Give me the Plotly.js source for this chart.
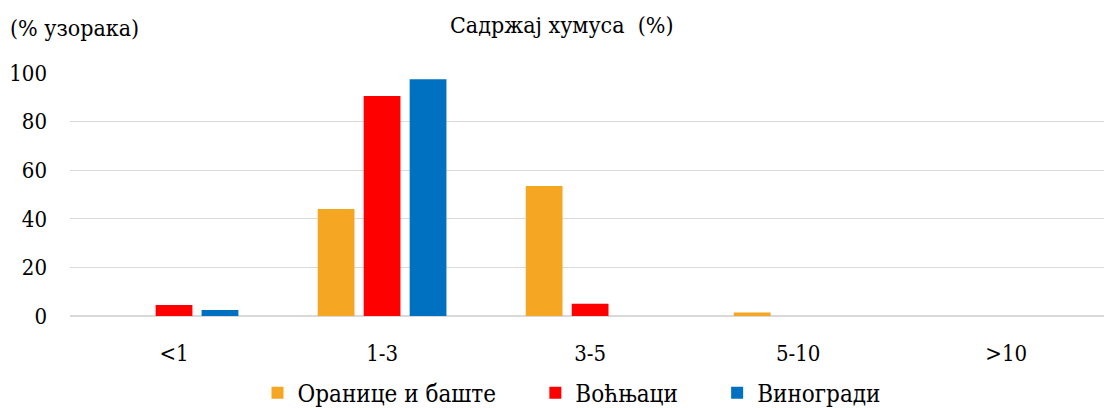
<!DOCTYPE html>
<html><head><meta charset="utf-8">
<script src="https://cdn.plot.ly/plotly-3.0.1.min.js"></script>
<style>body{margin:0;background:#fff}#chart{width:1104px;height:408px}</style>
</head><body><div id="chart"></div>
<script>
const categories = ["<1", "1-3", "3-5", "5-10", ">10"];
const oranice = [0, 44, 53.5, 1.4, 0];
const vocnjaci = [4.5, 90.5, 5, 0, 0];
const vinogradi = [2.5, 97.4, 0, 0, 0];
const seriesNames = ["Оранице и баште", "Воћњаци", "Виногради"];
const colors = ["#F5A623", "#FF0000", "#0070C0"];
const yTicks = [0, 20, 40, 60, 80, 100];

const fam = "DejaVu Serif Condensed, DejaVu Serif";
const font = {family: fam, size: 22, color: "#000"};
const titleFont = {family: fam, size: 23, color: "#000"};
const legendFont = {family: fam, size: 24, color: "#000"};
const pad = "\u00a0\u00a0\u00a0\u00a0\u00a0";
const data = [oranice, vocnjaci, vinogradi].map((v, i) => ({
  type: "bar", x: categories, y: v,
  name: seriesNames[i] + (i < 2 ? pad : ""),
  marker: {color: colors[i]}
}));
const layout = {
  width: 1104, height: 408,
  margin: {l: 70, r: 0, t: 73, b: 92, autoexpand: false},
  paper_bgcolor: "#fff", plot_bgcolor: "#fff",
  font: font,
  barmode: "group", bargap: 0.337, bargroupgap: 0.2,
  showlegend: true,
  legend: {orientation: "h", x: 0.485, xanchor: "center", y: -0.317, yanchor: "middle",
           font: legendFont, itemwidth: 30},
  xaxis: {type: "category", range: [-0.5, 4.47], showgrid: false, zeroline: false, showline: false,
          ticks: "", ticklabelstandoff: 22, tickfont: font},
  yaxis: {range: [0, 100], tickvals: yTicks, ticktext: yTicks.map(String),
          showgrid: true, gridcolor: "#D9D9D9", gridwidth: 1, zeroline: true,
          zerolinecolor: "#D9D9D9", zerolinewidth: 1.5,
          showline: false, ticks: "", ticklabelstandoff: 22, tickfont: font},
  annotations: [
    {text: "Садржај хумуса  (%)", xref: "paper", yref: "paper", x: 0.475, y: 1, yshift: 48,
     xanchor: "center", yanchor: "middle", showarrow: false, font: titleFont},
    {text: "(% узорака)", xref: "paper", yref: "paper", x: 0, xshift: -62, y: 1, yshift: 45,
     xanchor: "left", yanchor: "middle", showarrow: false, font: titleFont}
  ]
};
Plotly.newPlot("chart", data, layout, {displayModeBar: false, staticPlot: true});
</script></body></html>
